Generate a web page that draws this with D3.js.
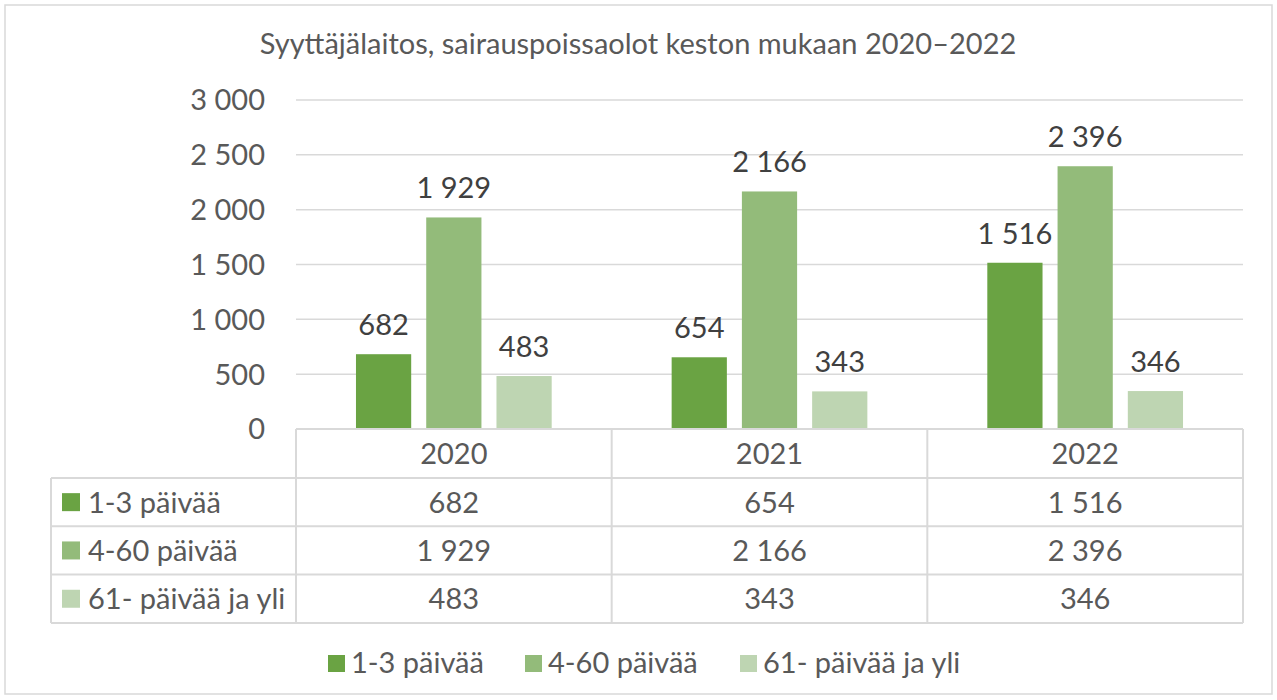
<!DOCTYPE html>
<html>
<head>
<meta charset="utf-8">
<script src="https://cdn.jsdelivr.net/npm/d3@7"></script>
<style>
  body { margin: 0; background: #fff; }
  svg text { font-family: Lato, "Open Sans", sans-serif; }
</style>
</head>
<body>
<svg id="chart" width="1277" height="700"></svg>
<script>
// chart data
var years = ["2020", "2021", "2022"];
var seriesNames = ["1-3 päivää", "4-60 päivää", "61- päivää ja yli"];
var shortDays = [682, 654, 1516];
var midDays = [1929, 2166, 2396];
var longDays = [483, 343, 346];
var yTicks = [0, 500, 1000, 1500, 2000, 2500, 3000];
var colors = ["#6aa343", "#93bb7a", "#bed5b2"];

var seriesValues = [shortDays, midDays, longDays];

var fmt = d3.formatLocale({decimal: ",", thousands: " ", grouping: [3], currency: ["", "€"]}).format(",d");

var svg = d3.select("#chart");
var fontSize = 29;

// outer frame
svg.append("rect").attr("x", 5).attr("y", 5).attr("width", 1267).attr("height", 689)
    .attr("fill", "#fff").attr("stroke", "#d9d9d9").attr("stroke-width", 1.5);

svg.append("text").attr("x", 638).attr("y", 54).attr("text-anchor", "middle")
    .style("font-size", "29px").style("fill", "#595959")
    .text("Syyttäjälaitos, sairauspoissaolot keston mukaan 2020–2022");

var plotLeft = 296, plotRight = 1243, plotTop = 100, plotBottom = 429;

var x = d3.scaleBand().domain(years).range([plotLeft, plotRight]);
var y = d3.scaleLinear().domain([0, 3000]).range([plotBottom, plotTop]);
var gw = x.bandwidth();
var xs = d3.scaleBand().domain(d3.range(seriesNames.length))
    .range([gw * 0.19, gw * 0.81]).paddingInner(0.214);

// gridlines + tick labels
svg.append("g").selectAll("line").data(yTicks.filter(d => d > 0)).enter().append("line")
    .attr("x1", plotLeft).attr("x2", plotRight)
    .attr("y1", d => y(d)).attr("y2", d => y(d))
    .attr("stroke", "#d9d9d9").attr("stroke-width", 1.5);

svg.append("g").selectAll("text").data(yTicks).enter().append("text")
    .attr("x", 265).attr("y", d => y(d)).attr("dy", "0.36em")
    .attr("text-anchor", "end").style("font-size", fontSize + "px").style("fill", "#595959")
    .text(d => fmt(d));

// bars
var groups = svg.append("g").selectAll("g").data(years).enter().append("g")
    .attr("transform", d => "translate(" + x(d) + ",0)");

groups.each(function(yr, i) {
    var g = d3.select(this);
    seriesValues.forEach(function(vals, s) {
        g.append("rect")
            .attr("x", xs(s)).attr("width", xs.bandwidth())
            .attr("y", y(vals[i])).attr("height", plotBottom - y(vals[i]))
            .attr("fill", colors[s]);
        g.append("text")
            .attr("x", xs(s) + xs.bandwidth() / 2).attr("y", y(vals[i]) - 19)
            .attr("text-anchor", "middle").style("font-size", fontSize + "px").style("fill", "#404040")
            .text(fmt(vals[i]));
    });
});

// data table
var tableLeft = 51, rowH = 48.3;
var headTop = plotBottom, headBottom = 478;
var rowTops = seriesNames.map((d, i) => headBottom + i * rowH);
var tableBottom = headBottom + seriesNames.length * rowH;
var border = "#d9d9d9";
var tbl = svg.append("g");

// horizontal lines
tbl.append("line").attr("x1", plotLeft).attr("x2", plotRight).attr("y1", headTop).attr("y2", headTop)
    .attr("stroke", border).attr("stroke-width", 2);
rowTops.concat([tableBottom]).forEach(function(yy) {
    tbl.append("line").attr("x1", tableLeft).attr("x2", plotRight).attr("y1", yy).attr("y2", yy)
        .attr("stroke", border).attr("stroke-width", 2);
});
// vertical lines
tbl.append("line").attr("x1", tableLeft).attr("x2", tableLeft).attr("y1", headBottom).attr("y2", tableBottom)
    .attr("stroke", border).attr("stroke-width", 2);
years.forEach(function(yr) {
    tbl.append("line").attr("x1", x(yr)).attr("x2", x(yr)).attr("y1", headTop).attr("y2", tableBottom)
        .attr("stroke", border).attr("stroke-width", 2);
});
tbl.append("line").attr("x1", plotRight).attr("x2", plotRight).attr("y1", headTop).attr("y2", tableBottom)
    .attr("stroke", border).attr("stroke-width", 2);

// header
years.forEach(function(yr) {
    tbl.append("text").attr("x", x(yr) + gw / 2).attr("y", (headTop + headBottom) / 2).attr("dy", "0.36em")
        .attr("text-anchor", "middle").style("font-size", fontSize + "px").style("fill", "#595959").text(yr);
});

seriesNames.forEach(function(name, s) {
    var cy = rowTops[s] + rowH / 2;
    tbl.append("rect").attr("x", 62).attr("y", cy - 9).attr("width", 18).attr("height", 18).attr("fill", colors[s]);
    tbl.append("text").attr("x", 88).attr("y", cy).attr("dy", "0.36em")
        .style("font-size", fontSize + "px").style("fill", "#595959").text(name);
    years.forEach(function(yr, i) {
        tbl.append("text").attr("x", x(yr) + gw / 2).attr("y", cy).attr("dy", "0.36em")
            .attr("text-anchor", "middle").style("font-size", fontSize + "px").style("fill", "#595959")
            .text(fmt(seriesValues[s][i]));
    });
});

// legend
var legendX = [328, 525, 740];
var legend = svg.append("g");
seriesNames.forEach(function(name, s) {
    legend.append("rect").attr("x", legendX[s]).attr("y", 655).attr("width", 17).attr("height", 17).attr("fill", colors[s]);
    legend.append("text").attr("x", legendX[s] + 23).attr("y", 663).attr("dy", "0.36em")
        .style("font-size", fontSize + "px").style("fill", "#595959").text(name);
});
</script>
</body>
</html>
